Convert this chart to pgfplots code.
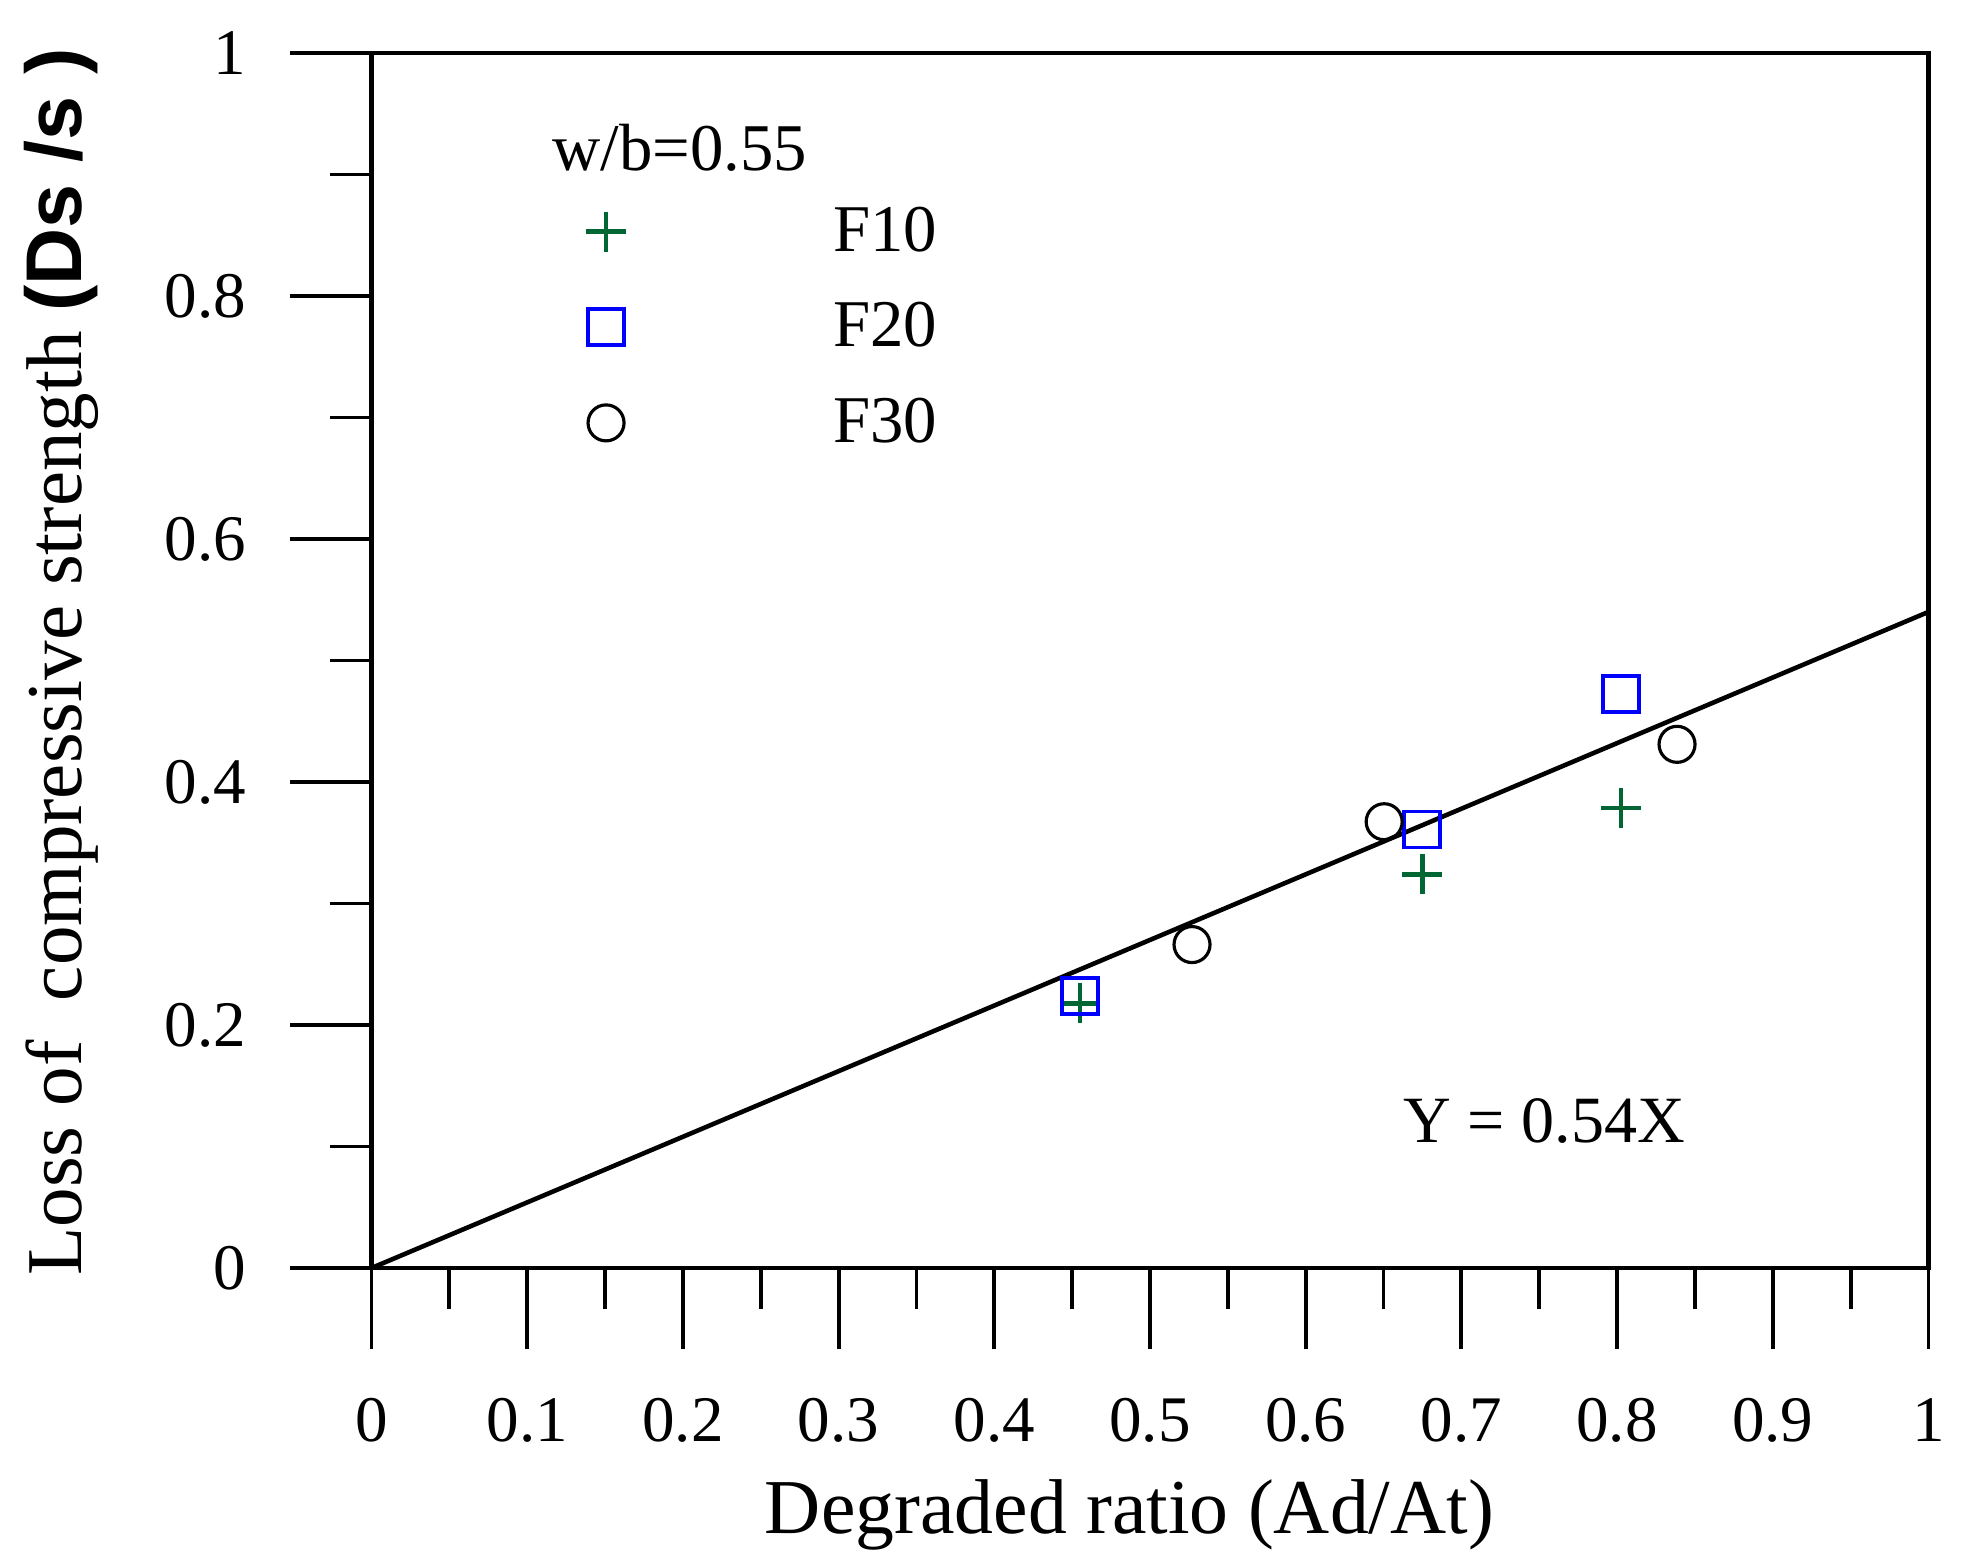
\documentclass[border=0pt]{standalone}
\usepackage{pgfplots}
\pgfplotsset{compat=1.18}
\usepackage{fontspec}
\setmainfont{Liberation Serif}
\newfontfamily\arialfont{Liberation Sans}
\definecolor{fgreen}{RGB}{0,102,51}
\definecolor{fblue}{RGB}{0,0,255}
\pgfplotsset{onlymk/.style={only marks, legend image code/.code={\draw[##1] plot coordinates {(0mm,0mm)};}}}

\begin{document}
\begin{tikzpicture}
\path[use as bounding box] (-37.15mm,-29.3mm) rectangle (159.65mm,126.8mm);
\begin{axis}[
 at={(0,0)}, anchor=south west,
 scale only axis, width=155.7mm, height=121.5mm,
 xmin=0, xmax=1, ymin=0, ymax=1,
 xtick={0,0.1,0.2,0.3,0.4,0.5,0.6,0.7,0.8,0.9,1},
 ytick={0,0.2,0.4,0.6,0.8,1},
 minor x tick num=1, minor y tick num=1,
 tick align=outside, xtick pos=bottom, ytick pos=left,
 major tick length=8.1mm, minor tick length=4.1mm,
 every tick/.style={black, line width=1.1pt},
 axis line style={line width=1.25pt},
 /pgf/number format/assume math mode=true,
 tick label style={font=\fontsize{18.5}{18.5}\selectfont},
 xticklabel style={anchor=north, inner sep=0pt, yshift=-4.9mm},
 yticklabel style={anchor=east, inner sep=0pt, xshift=-4.4mm},
 xlabel={Degraded ratio (Ad/At)},
 xlabel style={font=\fontsize{22.1}{22.1}\selectfont, at={(rel axis cs:0.4868,-0.2189)}, anchor=base, inner sep=0pt},
 ylabel={Loss of~~compressive strength {\arialfont\bfseries (Ds /s )}},
 ylabel style={font=\fontsize{22.5}{22.5}\selectfont, at={(rel axis cs:-0.1861,0.499)}, anchor=base, inner sep=0pt},
 legend style={draw=none, fill=none, inner sep=0pt, outer sep=0pt,
   at={(rel axis cs:0.1378,0.8735)}, anchor=north west,
   font=\fontsize{19}{19}\selectfont, row sep=4.6mm, column sep=20.7mm,
   nodes={inner sep=0pt}},
 legend cell align=left,
]
\addplot[onlymk, mark=+, mark size=2mm, color=fgreen, line width=1.25pt]
  coordinates {(0.4552,0.2178) (0.675,0.3239) (0.8025,0.3785)};
\addlegendentry{F10}
\addplot[onlymk, mark=square, mark size=1.8mm, color=fblue, line width=1.1pt]
  coordinates {(0.4552,0.2241) (0.6747,0.3609) (0.8025,0.4724)};
\addlegendentry{F20}
\addplot[onlymk, mark=o, mark size=1.8mm, color=black, line width=0.9pt]
  coordinates {(0.527,0.2662) (0.6504,0.3673) (0.8385,0.431)};
\addlegendentry{F30}
\addplot[black, line width=1.3pt, no marks, forget plot]
  coordinates {(0,0) (1,0.54)};
\node[anchor=base west, inner sep=0pt, font=\fontsize{19}{19}\selectfont] at (axis cs:0.1159,0.9037) {w/b=0.55};
\node[anchor=base west, inner sep=0pt, font=\fontsize{18.8}{18.8}\selectfont] at (axis cs:0.6625,0.1029) {Y = 0.54X};
\end{axis}
\end{tikzpicture}
\end{document}
